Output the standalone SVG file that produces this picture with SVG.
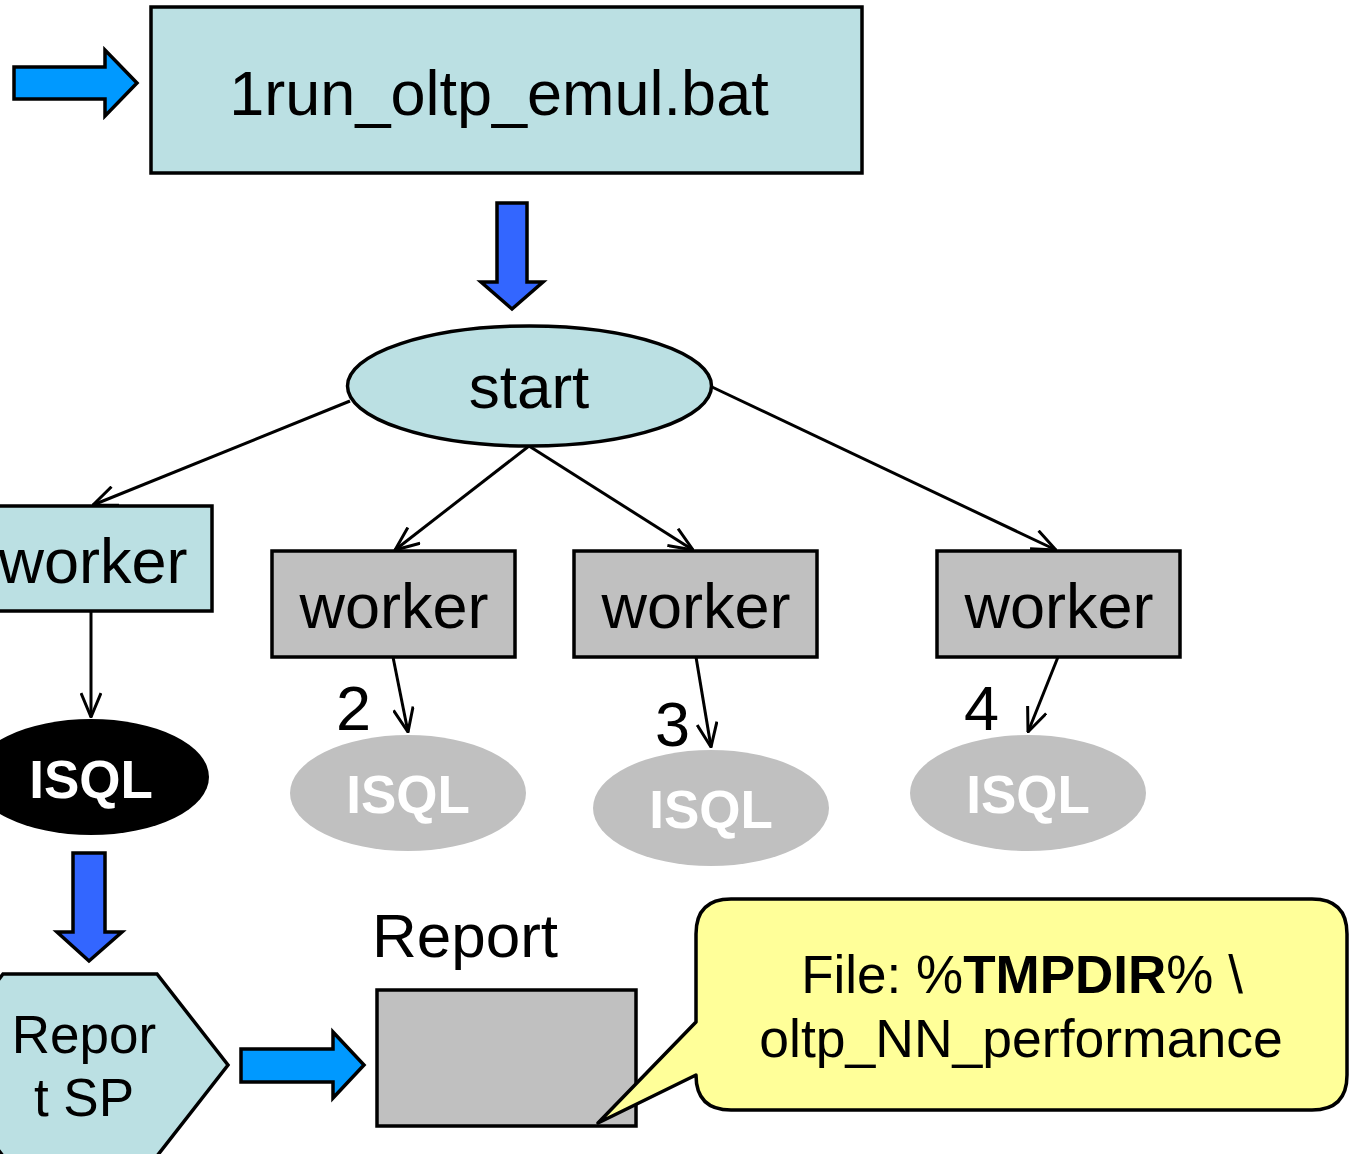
<svg xmlns="http://www.w3.org/2000/svg" width="1355" height="1154" viewBox="0 0 1355 1154">
  <defs>
    <style>
      .txt { font-family: "Liberation Sans", Arial, sans-serif; fill: #000; }
      .teal { fill: #BBE0E3; stroke: #000; stroke-width: 3.5; }
      .gray { fill: #C0C0C0; stroke: #000; stroke-width: 3.5; }
      .ghost { fill: #C0C0C0; }
      .isql { font-family: "Liberation Sans", Arial, sans-serif; font-weight: bold; font-size: 53px; fill: #fff; text-anchor: middle; }
      .blk-light { fill: #0099FF; stroke: #000; stroke-width: 3.5; stroke-linejoin: miter; }
      .blk-dark { fill: #3366FF; stroke: #000; stroke-width: 3.5; stroke-linejoin: miter; }
      .link { fill: none; stroke: #000; stroke-width: 3; }
    </style>
    <marker id="vhead" viewBox="0 0 26 22" refX="25" refY="11" markerWidth="26" markerHeight="22" markerUnits="userSpaceOnUse" orient="auto">
      <path d="M1,1 L25,11 L1,21" fill="none" stroke="#000" stroke-width="3"/>
    </marker>
  </defs>

  <rect width="1355" height="1154" fill="#fff"/>

  <!-- block arrows -->
  <g id="block-arrows">
    <path class="blk-light" d="M14,67 H105 V50 L137,83 L105,116 V99 H14 Z"/>
    <path class="blk-dark" d="M497,203 H527 V282 H543 L512,309 L481,282 H497 Z"/>
    <path class="blk-dark" d="M73,853 H105 V932 H122 L89,961 L57,932 H73 Z"/>
    <path class="blk-light" d="M241,1049 H333 V1032 L364,1065 L333,1098 V1082 H241 Z"/>
  </g>

  <!-- connectors -->
  <g id="connectors">
    <line class="link" x1="350" y1="401" x2="93" y2="505" marker-end="url(#vhead)"/>
    <line class="link" x1="529" y1="446" x2="395" y2="550" marker-end="url(#vhead)"/>
    <line class="link" x1="529" y1="446" x2="693" y2="550" marker-end="url(#vhead)"/>
    <line class="link" x1="712" y1="387" x2="1056" y2="550" marker-end="url(#vhead)"/>
    <line class="link" x1="91" y1="612" x2="91" y2="717" marker-end="url(#vhead)"/>
    <line class="link" x1="393" y1="657" x2="408" y2="732" marker-end="url(#vhead)"/>
    <line class="link" x1="696" y1="657" x2="711" y2="747" marker-end="url(#vhead)"/>
    <line class="link" x1="1058" y1="657" x2="1028" y2="732" marker-end="url(#vhead)"/>
  </g>

  <g id="node-bat">
    <rect class="teal" x="151" y="7" width="711" height="166"/>
    <text class="txt" x="499" y="115" font-size="63" text-anchor="middle">1run_oltp_emul.bat</text>
  </g>

  <g id="node-start">
    <ellipse class="teal" cx="529.5" cy="386" rx="182" ry="60"/>
    <text class="txt" x="529" y="408" font-size="62" text-anchor="middle">start</text>
  </g>

  <g id="node-worker1">
    <rect class="teal" x="-30" y="506" width="242" height="105"/>
    <text class="txt" x="93" y="583" font-size="63" text-anchor="middle">worker</text>
  </g>
  <g id="node-worker2">
    <rect class="gray" x="272" y="551" width="243" height="106"/>
    <text class="txt" x="394" y="628" font-size="63" text-anchor="middle">worker</text>
  </g>
  <g id="node-worker3">
    <rect class="gray" x="574" y="551" width="243" height="106"/>
    <text class="txt" x="696" y="628" font-size="63" text-anchor="middle">worker</text>
  </g>
  <g id="node-worker4">
    <rect class="gray" x="937" y="551" width="243" height="106"/>
    <text class="txt" x="1059" y="628" font-size="63" text-anchor="middle">worker</text>
  </g>

  <g id="labels-numbers">
    <text class="txt" x="336" y="730" font-size="63">2</text>
    <text class="txt" x="655" y="746" font-size="63">3</text>
    <text class="txt" x="964" y="730" font-size="63">4</text>
  </g>

  <g id="node-isql1">
    <ellipse cx="91" cy="777" rx="118" ry="58" fill="#000"/>
    <text class="isql" x="91" y="798">ISQL</text>
  </g>
  <g id="node-isql2">
    <ellipse class="ghost" cx="408" cy="793" rx="118" ry="58"/>
    <text class="isql" x="408" y="813">ISQL</text>
  </g>
  <g id="node-isql3">
    <ellipse class="ghost" cx="711" cy="808" rx="118" ry="58"/>
    <text class="isql" x="711" y="828">ISQL</text>
  </g>
  <g id="node-isql4">
    <ellipse class="ghost" cx="1028" cy="793" rx="118" ry="58"/>
    <text class="isql" x="1028" y="813">ISQL</text>
  </g>

  <g id="node-report-sp">
    <path class="teal" d="M3,974 H157 L228,1065 L157,1156 H3 L-68,1065 Z"/>
    <text class="txt" x="84" y="1053" font-size="53" text-anchor="middle">Repor</text>
    <text class="txt" x="84" y="1116" font-size="53" text-anchor="middle">t SP</text>
  </g>

  <g id="node-report">
    <text class="txt" x="465" y="957" font-size="62" text-anchor="middle">Report</text>
    <rect class="gray" x="377" y="990" width="259" height="136"/>
  </g>

  <g id="node-callout">
    <path d="M731,899 H1312 Q1347,899 1347,934 V1075 Q1347,1110 1312,1110 H731 Q696,1110 696,1075 L598,1123 L696,1022 V934 Q696,899 731,899 Z" fill="#FFFF99" stroke="#000" stroke-width="3.5" stroke-linejoin="round"/>
    <text class="txt" x="1022" y="993" font-size="53" text-anchor="middle">File: %<tspan font-weight="bold">TMPDIR</tspan>% \</text>
    <text class="txt" x="1021" y="1057" font-size="53.5" text-anchor="middle">oltp_NN_performance</text>
  </g>
</svg>
